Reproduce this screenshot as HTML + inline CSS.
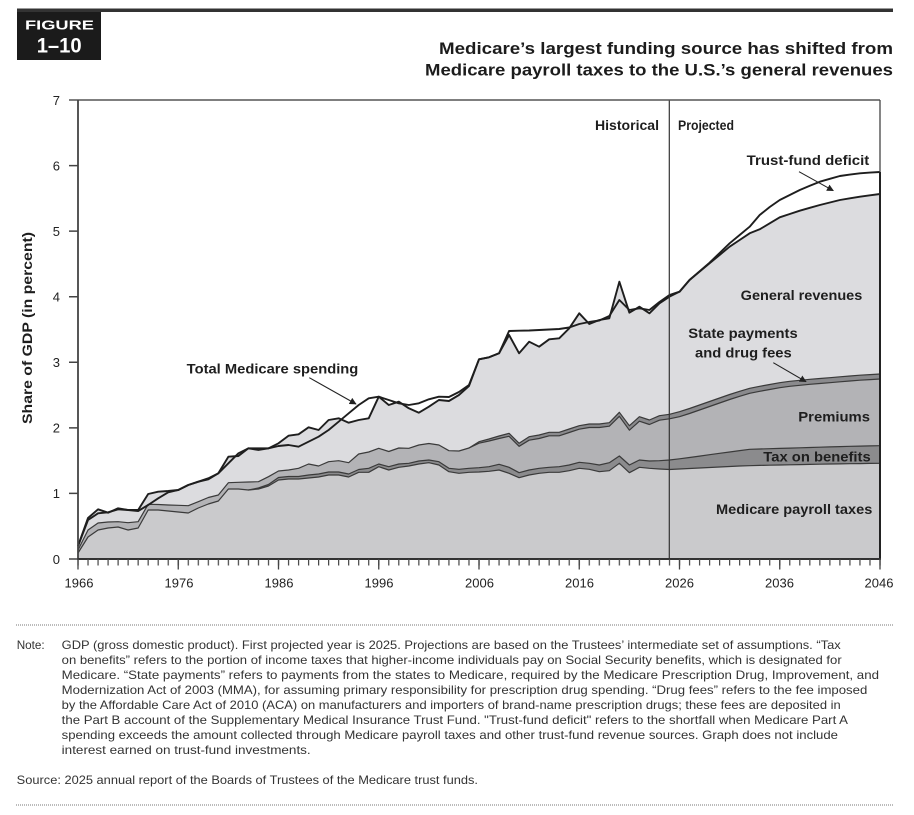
<!DOCTYPE html>
<html>
<head>
<meta charset="utf-8">
<style>
html,body{margin:0;padding:0;background:#fff;}
body{width:914px;height:815px;overflow:hidden;}
svg{display:block;font-family:"Liberation Sans",Arial,sans-serif;}
</style>
</head>
<body>
<svg width="914" height="815" viewBox="0 0 914 815" xmlns="http://www.w3.org/2000/svg">
<defs>
<pattern id="tk" patternUnits="userSpaceOnUse" x="77.4" y="559" width="10.025" height="7">
<rect x="0" y="0" width="1.2" height="7" fill="#444"/>
</pattern>
<marker id="ah" viewBox="0 0 10 10" refX="9" refY="5" markerWidth="7" markerHeight="7" markerUnits="userSpaceOnUse" orient="auto">
<path d="M0,0 L10,5 L0,10 Z" fill="#222"/>
</marker>
</defs>

<!-- header -->
<rect x="17" y="8.5" width="876" height="3.5" fill="#333"/>
<rect x="17" y="12" width="84" height="48" fill="#1b1b1b"/>
<text x="25" y="29.3" font-size="13" font-weight="bold" fill="#fff" textLength="69" lengthAdjust="spacingAndGlyphs">FIGURE</text>
<text x="36.7" y="52.3" font-size="21" font-weight="bold" fill="#fff" textLength="45" lengthAdjust="spacingAndGlyphs">1–10</text>
<text x="439" y="54" font-size="16.5" font-weight="bold" fill="#1c1c1c" textLength="454" lengthAdjust="spacingAndGlyphs">Medicare’s largest funding source has shifted from</text>
<text x="425" y="75.7" font-size="16.5" font-weight="bold" fill="#1c1c1c" textLength="468" lengthAdjust="spacingAndGlyphs">Medicare payroll taxes to the U.S.’s general revenues</text>

<!-- areas -->
<g transform="translate(78 0) scale(10.025 1)">
<path fill="#dcdcdf" d="M0,559 L0,546 1,518 2,509.3 3,512.7 4,508.3 5,510 6,510 7,494 8,491.7 9,491 10,490 11,485 12,481.7 13,478.3 14,473.3 15,456.7 16,456 17,448.3 18,450 19,448.3 20,443.3 21,435.7 22,434.3 23,427.3 24,430 25,420 26,418.3 27,422.7 28,420 29,418.3 30,396.7 31,405 32,401.7 33,408.3 34,412.7 35,406.7 36,400 37,401 38,395 39,386 40,359.3 41,357.3 42,353.3 43,335 44,353.3 45,341.7 46,346.7 47,339.3 48,338.3 49,328.3 50,313.3 51,324 52,320 53,318.3 54,281.7 55,312.7 56,306.7 57,313.3 58,303.3 59,296.7 60,291.7 61,280 62,271.7 63,263.3 64,255 65,246.7 66,240 67,233.3 68,229.3 69,223.3 70,217.3 71,214 72,210.7 73,207.8 74,205 75,202.5 76,200 77,198.3 78,196.7 79,195.3 80,194 L80,559 Z"/>
<path fill="#8a8a8d" d="M0,559 L0,550 1,530 2,523 3,522 4,521.7 5,522.7 6,521.7 7,504.3 8,504.5 9,505 10,505.3 11,505.7 12,501.7 13,497.5 14,495 15,482.7 16,482.3 17,482 18,481.7 19,476.7 20,471 21,470 22,468.3 23,464 24,466 25,461.7 26,460.7 27,462.7 28,454 29,452 30,448.3 31,451.5 32,448 33,448.3 34,445 35,443.5 36,445 37,450.7 38,451 39,448 40,441.7 41,439 42,436 43,433.3 44,443.3 45,436.7 46,435 47,432.3 48,432.3 49,429 50,425.7 51,424 52,424 53,422.7 54,412.3 55,425.7 56,416.7 57,420 58,415.7 59,414.3 60,411.7 61,408.5 62,405 63,401.5 64,398 65,394.5 66,391.3 67,388.3 68,386.3 69,384.5 70,382.7 71,381.3 72,380.3 73,379.3 74,378.5 75,377.7 76,376.8 77,376 78,375.2 79,374.6 80,374 L80,559 Z"/>
<path fill="#b3b3b6" d="M0,559 L0,550 1,530 2,523 3,522 4,521.7 5,522.7 6,521.7 7,504.3 8,504.5 9,505 10,505.3 11,505.7 12,501.7 13,497.5 14,495 15,482.7 16,482.3 17,482 18,481.7 19,476.7 20,471 21,470 22,468.3 23,464 24,466 25,461.7 26,460.7 27,462.7 28,454 29,452 30,448.3 31,451.5 32,448 33,448.3 34,445 35,443.5 36,445 37,450.7 38,451 39,448 40,443.2 41,441 42,438.5 43,436.3 44,446.3 45,440.2 46,438.5 47,435.8 48,435.8 49,432.5 50,429.2 51,427.5 52,427.5 53,426.2 54,416.3 55,430.2 56,421.2 57,424.5 58,420.2 59,418.8 60,416.7 61,413.5 62,410 63,406.5 64,403 65,399.5 66,396.3 67,393.3 68,391.3 69,389.5 70,387.7 71,386.3 72,385.3 73,384.3 74,383.5 75,382.7 76,381.8 77,381 78,380.2 79,379.6 80,379 L80,559 Z"/>
<path fill="#8b8b8d" d="M0,559 L0,553 1,537 2,530 3,528 4,527 5,530 6,528 7,510 8,510 9,511 10,512 11,513 12,508 13,504 14,501 15,489 16,489 17,490 18,488 19,484.5 20,477.5 21,476.5 22,476.5 23,475 24,474 25,472 26,472 27,474 28,469.5 29,468.3 30,464 31,466.7 32,464 33,463.3 34,461 35,460 36,461.7 37,468.3 38,469.3 39,468.3 40,467.7 41,466.7 42,464.3 43,467.3 44,472.7 45,470 46,468.3 47,467.3 48,466.7 49,465 50,462.3 51,463.3 52,465 53,462.7 54,456 55,465 56,460 57,461 58,460.7 59,460 60,458.8 61,457.5 62,456.1 63,454.7 64,453.3 65,452 66,450.6 67,449.3 68,449 69,448.7 70,448.4 71,448.1 72,447.8 73,447.5 74,447.2 75,446.9 76,446.6 77,446.3 78,446.1 79,445.9 80,445.7 L80,559 Z"/>
<path fill="#cacacc" d="M0,559 L0,553 1,537 2,530 3,528 4,527 5,530 6,528 7,510 8,510 9,511 10,512 11,513 12,508 13,504 14,501 15,489 16,489 17,490 18,489 19,486 20,480 21,479 22,479 23,478 24,477 25,475 26,475 27,477 28,472.3 29,472.3 30,466.7 31,470 32,467.3 33,466 34,464 35,462.7 36,465 37,471.7 38,473.3 39,472.3 40,472 41,471.3 42,470 43,473.3 44,477.7 45,475 46,473.3 47,472.3 48,472.3 49,470.7 50,468.3 51,469.3 52,471.7 53,470.7 54,463.3 55,472.7 56,467.3 57,468.3 58,469 59,469.5 60,469 61,468.5 62,468 63,467.5 64,467 65,466.5 66,466 67,465.7 68,465.4 69,465.2 70,465 71,464.8 72,464.6 73,464.4 74,464.2 75,464 76,463.9 77,463.7 78,463.6 79,463.4 80,463.3 L80,559 Z"/>

<g fill="none" stroke="#3a3a3a" stroke-width="1.2" vector-effect="non-scaling-stroke" stroke-linejoin="round">
<polyline vector-effect="non-scaling-stroke" points="0,553 1,537 2,530 3,528 4,527 5,530 6,528 7,510 8,510 9,511 10,512 11,513 12,508 13,504 14,501 15,489 16,489 17,490 18,489 19,486 20,480 21,479 22,479 23,478 24,477 25,475 26,475 27,477 28,472.3 29,472.3 30,466.7 31,470 32,467.3 33,466 34,464 35,462.7 36,465 37,471.7 38,473.3 39,472.3 40,472 41,471.3 42,470 43,473.3 44,477.7 45,475 46,473.3 47,472.3 48,472.3 49,470.7 50,468.3 51,469.3 52,471.7 53,470.7 54,463.3 55,472.7 56,467.3 57,468.3 58,469 59,469.5 60,469 61,468.5 62,468 63,467.5 64,467 65,466.5 66,466 67,465.7 68,465.4 69,465.2 70,465 71,464.8 72,464.6 73,464.4 74,464.2 75,464 76,463.9 77,463.7 78,463.6 79,463.4 80,463.3"/>
<polyline vector-effect="non-scaling-stroke" points="17,490 18,488 19,484.5 20,477.5 21,476.5 22,476.5 23,475 24,474 25,472 26,472 27,474 28,469.5 29,468.3 30,464 31,466.7 32,464 33,463.3 34,461 35,460 36,461.7 37,468.3 38,469.3 39,468.3 40,467.7 41,466.7 42,464.3 43,467.3 44,472.7 45,470 46,468.3 47,467.3 48,466.7 49,465 50,462.3 51,463.3 52,465 53,462.7 54,456 55,465 56,460 57,461 58,460.7 59,460 60,458.8 61,457.5 62,456.1 63,454.7 64,453.3 65,452 66,450.6 67,449.3 68,449 69,448.7 70,448.4 71,448.1 72,447.8 73,447.5 74,447.2 75,446.9 76,446.6 77,446.3 78,446.1 79,445.9 80,445.7"/>
<polyline vector-effect="non-scaling-stroke" points="0,550 1,530 2,523 3,522 4,521.7 5,522.7 6,521.7 7,504.3 8,504.5 9,505 10,505.3 11,505.7 12,501.7 13,497.5 14,495 15,482.7 16,482.3 17,482 18,481.7 19,476.7 20,471 21,470 22,468.3 23,464 24,466 25,461.7 26,460.7 27,462.7 28,454 29,452 30,448.3 31,451.5 32,448 33,448.3 34,445 35,443.5 36,445 37,450.7 38,451 39,448 40,443.2 41,441 42,438.5 43,436.3 44,446.3 45,440.2 46,438.5 47,435.8 48,435.8 49,432.5 50,429.2 51,427.5 52,427.5 53,426.2 54,416.3 55,430.2 56,421.2 57,424.5 58,420.2 59,418.8 60,416.7 61,413.5 62,410 63,406.5 64,403 65,399.5 66,396.3 67,393.3 68,391.3 69,389.5 70,387.7 71,386.3 72,385.3 73,384.3 74,383.5 75,382.7 76,381.8 77,381 78,380.2 79,379.6 80,379"/>
<polyline vector-effect="non-scaling-stroke" points="39,448 40,441.7 41,439 42,436 43,433.3 44,443.3 45,436.7 46,435 47,432.3 48,432.3 49,429 50,425.7 51,424 52,424 53,422.7 54,412.3 55,425.7 56,416.7 57,420 58,415.7 59,414.3 60,411.7 61,408.5 62,405 63,401.5 64,398 65,394.5 66,391.3 67,388.3 68,386.3 69,384.5 70,382.7 71,381.3 72,380.3 73,379.3 74,378.5 75,377.7 76,376.8 77,376 78,375.2 79,374.6 80,374"/>
</g>
<g fill="none" stroke="#1e1e1e" stroke-width="1.9" stroke-linejoin="round">
<polyline vector-effect="non-scaling-stroke" points="0,546 1,518 2,509.3 3,512.7 4,508.3 5,510 6,510 7,494 8,491.7 9,491 10,490 11,485 12,481.7 13,478.3 14,473.3 15,456.7 16,456 17,448.3 18,450 19,448.3 20,443.3 21,435.7 22,434.3 23,427.3 24,430 25,420 26,418.3 27,422.7 28,420 29,418.3 30,396.7 31,405 32,401.7 33,408.3 34,412.7 35,406.7 36,400 37,401 38,395 39,386 40,359.3 41,357.3 42,353.3 43,335 44,353.3 45,341.7 46,346.7 47,339.3 48,338.3 49,328.3 50,313.3 51,324 52,320 53,318.3 54,281.7 55,312.7 56,306.7 57,313.3 58,303.3 59,296.7 60,291.7 61,280 62,271.7 63,263.3 64,255 65,246.7 66,240 67,233.3 68,229.3 69,223.3 70,217.3 71,214 72,210.7 73,207.8 74,205 75,202.5 76,200 77,198.3 78,196.7 79,195.3 80,194"/>
<polyline vector-effect="non-scaling-stroke" points="0,546 1,520 2,513.3 3,512.3 4,509.3 5,510 6,511 7,505 8,498.3 9,492.3 10,490 11,485 12,481.7 13,479.3 14,473.3 15,463.3 16,453.3 17,448.3 18,448.3 19,448.3 20,446 21,445 22,446.7 23,441.7 24,436.7 25,430 26,421.7 27,413.3 28,405 29,398.3 30,396.7 31,400 32,403.3 33,405 34,403.3 35,399.3 36,396.7 37,397 38,392 39,385 40,359.3 41,357.3 42,353.3 43,331 44,330.7 45,330.5 46,330 47,329.5 48,329 49,327.5 50,324 51,322 52,320.5 53,316 54,300 55,310 56,308.3 57,310 58,302 59,295 60,291.7 61,280 62,271.3 63,262.7 64,253 65,243.3 66,235 67,226.7 68,215 69,207 70,200 71,195 72,190 73,185.8 74,181.7 75,178.8 76,176 77,174.6 78,173.3 79,172.6 80,172"/>
</g>
</g>

<!-- projection divider -->
<line x1="669.3" y1="100" x2="669.3" y2="559" stroke="#333" stroke-width="1.2"/>

<!-- frame / axes -->
<line x1="69" y1="100" x2="880" y2="100" stroke="#555" stroke-width="1.5"/>
<line x1="880" y1="100" x2="880" y2="559" stroke="#444" stroke-width="1.3"/>
<line x1="880" y1="172" x2="880" y2="559" stroke="#222" stroke-width="2"/>
<line x1="78" y1="100" x2="78" y2="560" stroke="#444" stroke-width="1.8"/>
<line x1="77" y1="559" x2="881" y2="559" stroke="#333" stroke-width="2"/>
<path d="M69,493.43H78M69,427.86H78M69,362.29H78M69,296.72H78M69,231.15H78M69,165.58H78M69,559H78" stroke="#444" stroke-width="1.5"/>
<rect x="77" y="559" width="804" height="6.5" fill="url(#tk)"/>
<path d="M78,559V569.5M178.25,559V569.5M278.5,559V569.5M378.75,559V569.5M479,559V569.5M579.25,559V569.5M679.5,559V569.5M779.75,559V569.5M880,559V569.5" stroke="#444" stroke-width="1.3"/>

<!-- tick labels -->
<g font-size="13" fill="#222" text-anchor="end">
<text x="60" y="564">0</text>
<text x="60" y="498">1</text>
<text x="60" y="432.5">2</text>
<text x="60" y="367">3</text>
<text x="60" y="301.5">4</text>
<text x="60" y="236">5</text>
<text x="60" y="170.5">6</text>
<text x="60" y="105">7</text>
</g>
<g font-size="13" fill="#222" text-anchor="middle">
<text x="79" y="587.5">1966</text>
<text x="179" y="587.5">1976</text>
<text x="279" y="587.5">1986</text>
<text x="379" y="587.5">1996</text>
<text x="479.5" y="587.5">2006</text>
<text x="579.5" y="587.5">2016</text>
<text x="679.5" y="587.5">2026</text>
<text x="779.5" y="587.5">2036</text>
<text x="879" y="587.5">2046</text>
</g>
<text transform="translate(32 424) rotate(-90)" font-size="13.5" font-weight="bold" fill="#1e1e1e" textLength="192" lengthAdjust="spacingAndGlyphs">Share of GDP (in percent)</text>

<!-- annotations -->
<g font-size="14" font-weight="bold" fill="#1e1e1e">
<text x="595" y="130" font-size="13.5" textLength="64" lengthAdjust="spacingAndGlyphs">Historical</text>
<text x="678" y="130" font-size="13.5" textLength="56" lengthAdjust="spacingAndGlyphs">Projected</text>
<text x="746.7" y="165" textLength="122.6" lengthAdjust="spacingAndGlyphs">Trust-fund deficit</text>
<text x="740.7" y="300" textLength="121.6" lengthAdjust="spacingAndGlyphs">General revenues</text>
<text x="688.3" y="338" textLength="109.4" lengthAdjust="spacingAndGlyphs">State payments</text>
<text x="695" y="357.3" textLength="96.7" lengthAdjust="spacingAndGlyphs">and drug fees</text>
<text x="798.3" y="421.7" textLength="71.7" lengthAdjust="spacingAndGlyphs">Premiums</text>
<text x="763.3" y="461.7" textLength="107.4" lengthAdjust="spacingAndGlyphs">Tax on benefits</text>
<text x="716" y="514" textLength="156.3" lengthAdjust="spacingAndGlyphs">Medicare payroll taxes</text>
<text x="186.7" y="373.3" textLength="171.6" lengthAdjust="spacingAndGlyphs">Total Medicare spending</text>
</g>
<g stroke="#222" stroke-width="1.1" fill="none">
<line x1="799" y1="171.7" x2="833.3" y2="190.7" marker-end="url(#ah)"/>
<line x1="773.3" y1="362.7" x2="806" y2="381.7" marker-end="url(#ah)"/>
<line x1="309.3" y1="377.7" x2="356" y2="404" marker-end="url(#ah)"/>
</g>

<!-- notes -->
<line x1="16" y1="625" x2="894" y2="625" stroke="#777" stroke-width="1" stroke-dasharray="1 1"/>
<g font-size="12" fill="#333">
<text x="16.7" y="649" textLength="28" lengthAdjust="spacingAndGlyphs">Note:</text>
<text x="61.7" y="649" textLength="779" lengthAdjust="spacingAndGlyphs">GDP (gross domestic product). First projected year is 2025. Projections are based on the Trustees’ intermediate set of assumptions. “Tax</text>
<text x="61.7" y="664" textLength="780" lengthAdjust="spacingAndGlyphs">on benefits” refers to the portion of income taxes that higher-income individuals pay on Social Security benefits, which is designated for</text>
<text x="61.7" y="679" textLength="817.3" lengthAdjust="spacingAndGlyphs">Medicare. “State payments” refers to payments from the states to Medicare, required by the Medicare Prescription Drug, Improvement, and</text>
<text x="61.7" y="694" textLength="805.6" lengthAdjust="spacingAndGlyphs">Modernization Act of 2003 (MMA), for assuming primary responsibility for prescription drug spending. “Drug fees” refers to the fee imposed</text>
<text x="61.7" y="709" textLength="779" lengthAdjust="spacingAndGlyphs">by the Affordable Care Act of 2010 (ACA) on manufacturers and importers of brand-name prescription drugs; these fees are deposited in</text>
<text x="61.7" y="724" textLength="786.3" lengthAdjust="spacingAndGlyphs">the Part B account of the Supplementary Medical Insurance Trust Fund. "Trust-fund deficit" refers to the shortfall when Medicare Part A</text>
<text x="61.7" y="739" textLength="776.3" lengthAdjust="spacingAndGlyphs">spending exceeds the amount collected through Medicare payroll taxes and other trust-fund revenue sources. Graph does not include</text>
<text x="61.7" y="754" textLength="249" lengthAdjust="spacingAndGlyphs">interest earned on trust-fund investments.</text>
<text x="16.7" y="784" textLength="461.3" lengthAdjust="spacingAndGlyphs">Source: 2025 annual report of the Boards of Trustees of the Medicare trust funds.</text>
</g>
<line x1="16" y1="805" x2="894" y2="805" stroke="#777" stroke-width="1" stroke-dasharray="1 1"/>
</svg>
</body>
</html>
